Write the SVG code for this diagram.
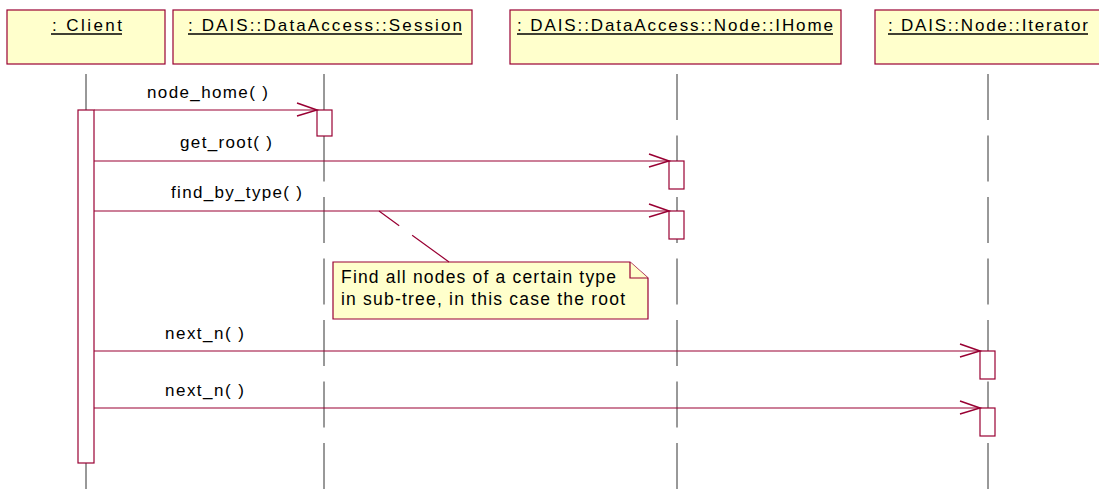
<svg xmlns="http://www.w3.org/2000/svg" width="1099" height="500" viewBox="0 0 1099 500">
<style>
  .obj { fill: #FFFFCC; stroke: #990033; stroke-width: 1.2; }
  .act { fill: #FFFFFF; stroke: #990033; stroke-width: 1.2; }
  .life { stroke: #333333; stroke-width: 1; stroke-dasharray: 46 15.5; fill: none; }
  .msg { stroke: #990033; stroke-width: 1.2; fill: none; }
  .head { stroke: #990033; stroke-width: 1.5; fill: none; }
  .t { font-family: "Liberation Sans", Arial, sans-serif; font-size: 17px; fill: #000000; }
  .n { font-family: "Liberation Sans", Arial, sans-serif; font-size: 17.5px; fill: #000000; }
  .ul { stroke: #000000; stroke-width: 1.3; }
  .note { fill: #FFFFCC; stroke: #990033; stroke-width: 1.2; }
</style>

<g id="lifelines">
  <line class="life" x1="86" y1="74" x2="86" y2="489"/>
  <line class="life" x1="324" y1="74" x2="324" y2="489"/>
  <line class="life" x1="677" y1="74" x2="677" y2="489"/>
  <line class="life" x1="988" y1="74" x2="988" y2="489"/>
</g>

<g id="client">
  <rect class="obj" x="7" y="10" width="158" height="54"/>
  <text class="t" x="52" y="31" textLength="70" lengthAdjust="spacing">:  Client</text>
  <line class="ul" x1="51" y1="34" x2="122" y2="34"/>
  <rect class="act" x="78" y="110" width="16" height="353"/>
</g>

<g id="session">
  <rect class="obj" x="173" y="10" width="299" height="54"/>
  <text class="t" x="188" y="31" textLength="274" lengthAdjust="spacing">: DAIS::DataAccess::Session</text>
  <line class="ul" x1="188" y1="34" x2="462" y2="34"/>
  <rect class="act" x="317" y="110" width="15" height="26"/>
</g>

<g id="ihome">
  <rect class="obj" x="510" y="10" width="331" height="54"/>
  <text class="t" x="517" y="31" textLength="316" lengthAdjust="spacing">: DAIS::DataAccess::Node::IHome</text>
  <line class="ul" x1="517" y1="34" x2="833" y2="34"/>
  <rect class="act" x="669" y="161" width="15" height="28"/>
  <rect class="act" x="669" y="211" width="15" height="28"/>
</g>

<g id="iterator">
  <rect class="obj" x="875" y="10" width="230" height="54"/>
  <text class="t" x="888" y="31" textLength="200" lengthAdjust="spacing">: DAIS::Node::Iterator</text>
  <line class="ul" x1="888" y1="34" x2="1088" y2="34"/>
  <rect class="act" x="980" y="351" width="15" height="28"/>
  <rect class="act" x="980" y="408" width="15" height="28"/>
</g>

<g id="note">
  <path class="note" d="M333,262 L630,262 L648,278 L648,319 L333,319 Z"/>
  <path class="note" d="M630,262 L630,278 L648,278"/>
  <text class="n" x="341" y="283" textLength="275" lengthAdjust="spacing">Find all nodes of a certain type</text>
  <text class="n" x="341" y="305" textLength="284" lengthAdjust="spacing">in sub-tree, in this case the root</text>
</g>

<g id="connectors">
  <line class="msg" x1="94" y1="110" x2="317" y2="110"/>
  <polyline class="head" points="297,103 317,110 297,116"/>
  <text class="t" x="147" y="98" textLength="121" lengthAdjust="spacing">node_home( )</text>

  <line class="msg" x1="94" y1="161" x2="669" y2="161"/>
  <polyline class="head" points="649,154 669,161 649,167"/>
  <text class="t" x="180" y="148" textLength="92" lengthAdjust="spacing">get_root( )</text>

  <line class="msg" x1="94" y1="211" x2="669" y2="211"/>
  <polyline class="head" points="649,204 669,211 649,217"/>
  <text class="t" x="171" y="198" textLength="131" lengthAdjust="spacing">find_by_type( )</text>

  <line class="msg" x1="379" y1="211" x2="449" y2="262" stroke-dasharray="25 16 60"/>

  <line class="msg" x1="94" y1="351" x2="980" y2="351"/>
  <polyline class="head" points="960,344 980,351 960,357"/>
  <text class="t" x="165" y="339" textLength="79" lengthAdjust="spacing">next_n( )</text>

  <line class="msg" x1="94" y1="408" x2="980" y2="408"/>
  <polyline class="head" points="960,401 980,408 960,414"/>
  <text class="t" x="165" y="396" textLength="79" lengthAdjust="spacing">next_n( )</text>
</g>
</svg>
